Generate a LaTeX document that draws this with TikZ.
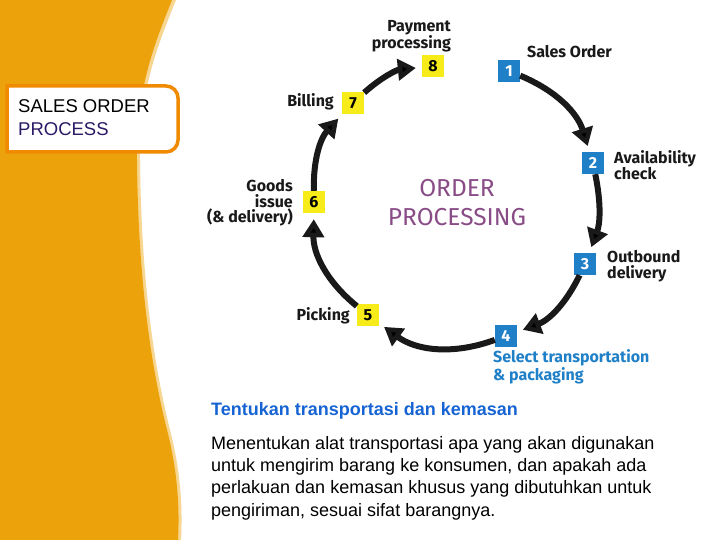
\documentclass[tikz,border=0pt]{standalone}
\usepackage{fontspec}
\setmainfont{Liberation Sans}
\newfontfamily\firafont{Fira Sans}
\usepackage{tikz}
\usetikzlibrary{positioning, arrows.meta}
\definecolor{bandorange}{HTML}{ECA20B}
\definecolor{bandedge}{HTML}{F6D690}
\definecolor{boxorange}{HTML}{F08A00}
\definecolor{navy}{HTML}{2B1A66}
\definecolor{stepblue}{HTML}{1F80C8}
\definecolor{stepyellow}{HTML}{F7EC19}
\definecolor{mauve}{HTML}{8A4C87}
\definecolor{headblue}{HTML}{1664D4}
\tikzset{%
	>={Triangle[length=18pt, width=21pt]},
	flow/.style = {line width = 6pt, draw = black!90, shorten > = 6pt, shorten < = 0pt},
	blu/.style = {name = #1, rectangle, fill = stepblue, text = white, minimum size = 22pt, inner sep = 0pt, font = \firafont\bfseries\fontsize{16}{16}\selectfont},
	yel/.style = {name = #1, rectangle, fill = stepyellow, text = black, minimum size = 22pt, inner sep = 0pt, font = \firafont\bfseries\fontsize{16}{16}\selectfont},
	lab/.style = {inner sep = 0pt, text = black!90, font = \firafont\bfseries\fontsize{16}{15.5}\selectfont}
}
\begin{document}
\begin{tikzpicture}[x=1pt, y=1pt]
	\useasboundingbox (0,0) rectangle (720,-540);
	\fill [white] (0,0) rectangle (720,-540);
	% orange band on the left
	\fill [bandedge] (0,0) -- (176,0) .. controls (158,-45) and (139,-90) .. (140,-160) .. controls (141,-260) and (150,-350) .. (170,-430) .. controls (183,-480) and (182,-520) .. (181,-540) -- (0,-540) -- cycle;
	\fill [bandorange] (0,0) -- (172,0) .. controls (154,-45) and (136,-90) .. (137,-160) .. controls (138,-260) and (147,-350) .. (167,-430) .. controls (180,-480) and (179,-520) .. (178,-540) -- (0,-540) -- cycle;
	% title box
	\draw [boxorange, line width = 3.5pt, fill = white] (7,-86) [rounded corners = 12pt] -- (178,-86) -- (178,-152) [sharp corners] -- (7,-152) -- cycle;
	\node [anchor = west, align = left, inner sep = 0pt, font = \fontsize{18.5}{23}\selectfont] (title) at (18,-118) {SALES ORDER\\\textcolor{navy}{PROCESS}};
	% steps
	\node [blu = {s1}] at (509,-71) {1};
	\node [blu = {s2}] at (593,-163) {2};
	\node [blu = {s3}] at (585,-264) {3};
	\node [blu = {s4}] at (506,-336) {4};
	\node [yel = {s5}] at (368,-315) {5};
	\node [yel = {s6}] at (314,-202) {6};
	\node [yel = {s7}] at (353,-103) {7};
	\node [yel = {s8}] at (433,-66) {8};
	\path [->, flow] (s1) edge [bend left = 25] (s2);
	\path [->, flow] (s2) edge [bend left = 16] (s3);
	\path [->, flow] (s3) edge [bend left = 22] (s4);
	\path [->, flow] (s4) edge [bend left = 28] (s5);
	\path [->, flow] (s5) edge [bend left = 26] (s6);
	\path [->, flow] (s6) edge [bend left = 22] (s7);
	\path [->, flow] (s7) edge [bend left = 18] (s8);
	% labels
	\node [lab, anchor = east, align = right] (l8) at (451,-36) {Payment\\processing};
	\node [lab, anchor = west] (l1) at (527,-52) {Sales Order};
	\node [lab, anchor = west, align = left] (l2) at (614,-165) {Availability\\check};
	\node [lab, anchor = west, align = left] (l3) at (607,-266) {Outbound\\delivery};
	\node [lab, anchor = west, align = left, text = stepblue] (l4) at (493,-367) {Select transportation\\\& packaging};
	\node [lab, anchor = east] (l5) at (350,-316) {Picking};
	\node [lab, anchor = east, align = right] (l6) at (293,-203) {Goods\\issue\\(\& delivery)};
	\node [lab, anchor = east] (l7) at (334,-102) {Billing};
	\node [inner sep = 0pt, align = center, text = mauve, font = \firafont\fontsize{24.5}{29}\selectfont] (mid) at (457,-203) {ORDER\\PROCESSING};
	% description
	\node [anchor = west, inner sep = 0pt, text = headblue, font = \bfseries\fontsize{18}{18}\selectfont] (head) at (211,-411) {Tentukan transportasi dan kemasan};
	\node [anchor = north west, align = left, inner sep = 0pt, font = \fontsize{18}{22.3}\selectfont] (body) at (211,-436) {Menentukan alat transportasi apa yang akan digunakan\\untuk mengirim barang ke konsumen, dan apakah ada\\perlakuan dan kemasan khusus yang dibutuhkan untuk\\pengiriman, sesuai sifat barangnya.};
\end{tikzpicture}
\end{document}
